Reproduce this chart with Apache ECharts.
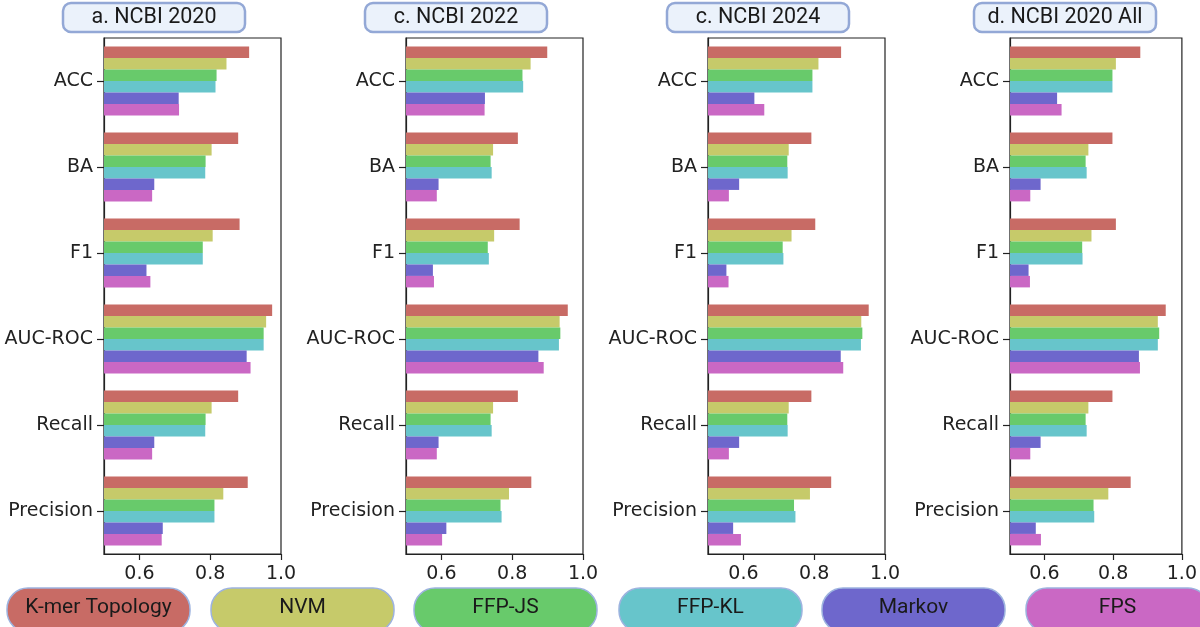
<!DOCTYPE html>
<html>
<head>
<meta charset="utf-8">
<script src="https://cdn.jsdelivr.net/npm/echarts@6/dist/echarts.min.js"></script>
<style>
  html, body { margin: 0; padding: 0; background: #ffffff; }
  #chart { width: 1200px; height: 627px; }
</style>
</head>
<body>
<div id="chart"></div>
<script>
// Metrics shown on the y axis (top to bottom)
const metrics = ['ACC', 'BA', 'F1', 'AUC-ROC', 'Recall', 'Precision'];
// Methods compared in every panel
const methods = ['K-mer Topology', 'NVM', 'FFP-JS', 'FFP-KL', 'Markov', 'FPS'];
const panelTitles = ['a. NCBI 2020', 'c. NCBI 2022', 'c. NCBI 2024', 'd. NCBI 2020 All'];
const xTicks = [0.6, 0.8, 1.0];
const xMin = 0.5;
const xMax = 1.0;

// Scores per method (rows follow `methods`, columns follow `metrics`)
const ncbi2020 = [
  [0.910, 0.879, 0.883, 0.975, 0.879, 0.906],
  [0.846, 0.804, 0.807, 0.958, 0.804, 0.837],
  [0.818, 0.787, 0.779, 0.951, 0.787, 0.812],
  [0.815, 0.786, 0.779, 0.951, 0.786, 0.812],
  [0.711, 0.642, 0.620, 0.903, 0.642, 0.666],
  [0.712, 0.636, 0.631, 0.914, 0.636, 0.663]
];
const ncbi2022 = [
  [0.899, 0.816, 0.821, 0.957, 0.816, 0.854],
  [0.852, 0.746, 0.749, 0.934, 0.746, 0.791],
  [0.829, 0.739, 0.731, 0.936, 0.739, 0.767],
  [0.831, 0.742, 0.734, 0.932, 0.742, 0.770],
  [0.723, 0.592, 0.576, 0.874, 0.592, 0.614],
  [0.722, 0.587, 0.579, 0.889, 0.587, 0.602]
];
const ncbi2024 = [
  [0.876, 0.792, 0.803, 0.954, 0.792, 0.848],
  [0.812, 0.728, 0.736, 0.933, 0.728, 0.788],
  [0.795, 0.724, 0.711, 0.936, 0.724, 0.743],
  [0.795, 0.725, 0.713, 0.932, 0.725, 0.747],
  [0.631, 0.588, 0.552, 0.875, 0.588, 0.571],
  [0.659, 0.559, 0.558, 0.882, 0.559, 0.593]
];
const ncbi2020All = [
  [0.879, 0.798, 0.808, 0.953, 0.798, 0.851],
  [0.808, 0.728, 0.737, 0.930, 0.728, 0.786],
  [0.798, 0.720, 0.710, 0.934, 0.720, 0.743],
  [0.798, 0.723, 0.711, 0.930, 0.723, 0.745],
  [0.637, 0.589, 0.554, 0.875, 0.589, 0.575],
  [0.650, 0.559, 0.558, 0.878, 0.559, 0.590]
];
const panels = [ncbi2020, ncbi2022, ncbi2024, ncbi2020All];

// Styling and layout
const colors = ['#c86b65', '#c6ca6a', '#68ca6b', '#67c5cb', '#6e67cc', '#ca68c4'];
const axisColor = '#222222';
const labelFont = "'DejaVu Sans'";
const boxFont = 'Roboto';
const gridLeft = [104, 406, 708, 1010];
const gridTop = 38;
const gridWidth = 177;
const gridHeight = 516;
const titleBoxX = [63, 365, 667, 974];
const titleBoxW = 182;
const legendBoxX = [7, 211, 414, 619, 822, 1026];
const legendBoxW = 183;

const grids = [], xAxes = [], yAxes = [], series = [], graphics = [];

panels.forEach((panel, p) => {
  grids.push({
    left: gridLeft[p], top: gridTop, width: gridWidth, height: gridHeight,
    show: true, borderColor: axisColor, borderWidth: 1.2, backgroundColor: 'transparent'
  });
  xAxes.push({
    gridIndex: p, type: 'value', min: xMin, max: xMax,
    splitLine: { show: false },
    axisLine: { show: true, lineStyle: { color: axisColor, width: 1.2 } },
    axisTick: { show: true, customValues: xTicks, length: 6, lineStyle: { color: axisColor, width: 1.2 } },
    axisLabel: {
      show: true, customValues: xTicks, margin: 11,
      formatter: v => Number(v).toFixed(1),
      fontFamily: labelFont, fontSize: 19, color: axisColor
    }
  });
  yAxes.push({
    gridIndex: p, type: 'category', data: metrics, inverse: true,
    axisLine: { show: true, lineStyle: { color: axisColor, width: 1.2 } },
    axisTick: { show: true, alignWithLabel: true, length: 7, lineStyle: { color: axisColor, width: 1.2 } },
    axisLabel: { fontFamily: labelFont, fontSize: 19, color: axisColor, margin: 11 },
    splitLine: { show: false }
  });
  methods.forEach((m, s) => {
    series.push({
      type: 'bar', name: m, xAxisIndex: p, yAxisIndex: p,
      data: panel[s],
      barGap: '0%', barCategoryGap: '20%',
      itemStyle: { color: colors[s] },
      silent: true, animation: false
    });
  });

  // Panel title in a rounded box
  graphics.push({
    type: 'rect',
    shape: { x: titleBoxX[p], y: 3, width: titleBoxW, height: 29, r: 8 },
    style: { fill: '#ebf2fb', stroke: '#93a8d6', lineWidth: 2.5 }
  });
  graphics.push({
    type: 'text',
    style: {
      text: panelTitles[p], x: titleBoxX[p] + titleBoxW / 2, y: 18,
      textAlign: 'center', textVerticalAlign: 'middle',
      font: '21.5px ' + boxFont, fill: '#1a1a1a'
    }
  });
});

// Legend drawn as coloured pill boxes along the bottom
methods.forEach((m, s) => {
  graphics.push({
    type: 'rect',
    shape: { x: legendBoxX[s], y: 588, width: legendBoxW, height: 44, r: 21 },
    style: { fill: colors[s], stroke: '#9db3df', lineWidth: 1.5 }
  });
  graphics.push({
    type: 'text',
    style: {
      text: m, x: legendBoxX[s] + legendBoxW / 2, y: 608,
      textAlign: 'center', textVerticalAlign: 'middle',
      font: '21px ' + boxFont, fill: '#1a1a1a'
    }
  });
});

const chart = echarts.init(document.getElementById('chart'), null, { renderer: 'canvas' });
chart.setOption({
  animation: false,
  backgroundColor: '#ffffff',
  grid: grids,
  xAxis: xAxes,
  yAxis: yAxes,
  series: series,
  graphic: graphics
});
</script>
</body>
</html>
